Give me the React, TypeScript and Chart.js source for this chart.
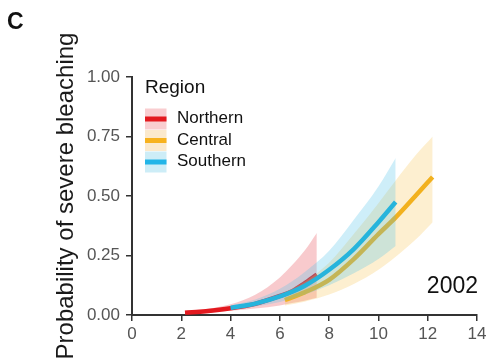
import React, { useEffect, useRef } from "react";
import { Chart, registerables } from "chart.js";

Chart.register(...registerables);

// ---- data ----
const xTickValues = [0, 2, 4, 6, 8, 10, 12, 14];
const yTickValues = [0, 0.25, 0.5, 0.75, 1];
const regionNames = ["Northern", "Central", "Southern"];

const northernX = [2.15, 3, 4, 5, 6, 6.5, 7, 7.5];
const northernFit = [0.01, 0.016, 0.028, 0.047, 0.08, 0.1, 0.133, 0.17];
const northernLow = [0.005, 0.01, 0.018, 0.027, 0.04, 0.05, 0.06, 0.072];
const northernHigh = [0.018, 0.025, 0.045, 0.085, 0.158, 0.21, 0.27, 0.345];

const centralX = [6.2, 7, 8, 9, 10, 10.7, 11.5, 12.2];
const centralFit = [0.063, 0.095, 0.148, 0.235, 0.34, 0.41, 0.5, 0.58];
const centralLow = [0.04, 0.056, 0.086, 0.13, 0.19, 0.245, 0.316, 0.39];
const centralHigh = [0.095, 0.14, 0.22, 0.34, 0.47, 0.565, 0.67, 0.75];

const southernX = [4, 5, 6, 7, 8, 9, 10, 10.7];
const southernFit = [0.03, 0.048, 0.078, 0.122, 0.19, 0.277, 0.39, 0.475];
const southernLow = [0.022, 0.036, 0.055, 0.085, 0.125, 0.175, 0.235, 0.29];
const southernHigh = [0.04, 0.065, 0.11, 0.18, 0.27, 0.4, 0.54, 0.66];

const panelLabel = "C";
const yearLabel = "2002";
const yAxisTitle = "Probability of severe bleaching";
const legendTitle = "Region";

// ---- styles ----
const FONT = '"Liberation Sans", Arial, sans-serif';
const lineColors = ["#e3191f", "#f2b11e", "#26b4dc"];
const bandColors = ["rgba(232,80,90,0.3)", "rgba(248,195,80,0.27)", "rgba(80,195,232,0.28)"];
const legendBoxColors = ["#f9cdd0", "#fbe9cc", "#cdedf7"];
const legendLineColors = ["#e3191f", "#f7b21e", "#22b5e8"];

const pts = (xs: number[], ys: number[]) => xs.map((x, i) => ({ x, y: ys[i] }));

function series(xs: number[], fit: number[], low: number[], high: number[], idx: number, baseOrder: number) {
  const common = {
    pointRadius: 0,
    pointHoverRadius: 0,
    cubicInterpolationMode: "monotone" as const,
  };
  return [
    { ...common, label: regionNames[idx] + " low", data: pts(xs, low), borderWidth: 0, borderColor: "transparent", fill: false, order: baseOrder + 1 },
    { ...common, label: regionNames[idx] + " high", data: pts(xs, high), borderWidth: 0, borderColor: "transparent", backgroundColor: bandColors[idx], fill: "-1", order: baseOrder + 1 },
    { ...common, label: regionNames[idx], data: pts(xs, fit), borderWidth: 4.5, borderColor: lineColors[idx], fill: false, order: baseOrder },
  ];
}

const overlayPlugin = {
  id: "overlayText",
  afterDraw(chart: any) {
    const { ctx, chartArea: ca } = chart;
    ctx.save();
    ctx.textBaseline = "middle";
    // panel label
    ctx.fillStyle = "#111";
    ctx.textAlign = "left";
    ctx.font = `bold 23px ${FONT}`;
    ctx.fillText(panelLabel, 7, 23);
    // year
    ctx.textAlign = "right";
    ctx.font = `23px ${FONT}`;
    ctx.fillText(yearLabel, ca.right + 1, ca.bottom - 28);
    // legend
    const lx = ca.left + 13;
    ctx.textAlign = "left";
    ctx.font = `19px ${FONT}`;
    ctx.fillStyle = "#111";
    ctx.fillText(legendTitle, lx, ca.top + 11);
    ctx.font = `17px ${FONT}`;
    regionNames.forEach((name, i) => {
      const cy = ca.top + 42 + i * 21.5;
      ctx.fillStyle = legendBoxColors[i];
      ctx.fillRect(lx, cy - 10.5, 21.5, 21);
      ctx.fillStyle = legendLineColors[i];
      ctx.fillRect(lx, cy - 2.5, 21.5, 5);
      ctx.fillStyle = "#111";
      ctx.fillText(name, lx + 32, cy - 0.5);
    });
    ctx.restore();
  },
};

export default function App() {
  const ref = useRef<HTMLCanvasElement>(null);
  useEffect(() => {
    if (!ref.current) return;
    const chart = new Chart(ref.current, {
      type: "line",
      data: {
        datasets: [
          ...series(northernX, northernFit, northernLow, northernHigh, 0, 5),
          ...series(centralX, centralFit, centralLow, centralHigh, 1, 3),
          ...series(southernX, southernFit, southernLow, southernHigh, 2, 1),
        ] as any,
      },
      options: {
        animation: false,
        responsive: false,
        maintainAspectRatio: false,
        layout: { padding: { top: 77, right: 15, bottom: 0, left: 0 } },
        plugins: {
          legend: { display: false },
          tooltip: { enabled: false },
          filler: { drawTime: "beforeDatasetDraw" } as any,
        },
        scales: {
          x: {
            type: "linear",
            min: 0,
            max: 14,
            afterFit: (s: any) => { s.height = 46; },
            afterBuildTicks: (s: any) => { s.ticks = xTickValues.map((v) => ({ value: v })); },
            ticks: { color: "#555", font: { family: FONT, size: 17 }, padding: 3 },
            grid: { display: true, drawOnChartArea: false, drawTicks: true, tickLength: 6, color: "#333", lineWidth: 1.5 },
            border: { display: true, color: "#333", width: 2 },
          },
          y: {
            type: "linear",
            min: 0,
            max: 1,
            afterFit: (s: any) => { s.width = 132; },
            afterBuildTicks: (s: any) => { s.ticks = yTickValues.map((v) => ({ value: v })); },
            ticks: {
              color: "#555",
              font: { family: FONT, size: 17 },
              padding: 6,
              callback: (v: any) => Number(v).toFixed(2),
            },
            grid: { display: true, drawOnChartArea: false, drawTicks: true, tickLength: 6, color: "#333", lineWidth: 1.5 },
            border: { display: true, color: "#333", width: 2 },
            title: {
              display: true,
              text: yAxisTitle,
              color: "#1a1a1a",
              font: { family: FONT, size: 24 },
              padding: { top: 52, bottom: 0 },
            },
          },
        },
      },
      plugins: [overlayPlugin],
    });
    return () => chart.destroy();
  }, []);
  return (
    <div style={{ position: "absolute", left: 0, top: 0, width: 492, height: 361, background: "#fff" }}>
      <canvas ref={ref} width={492} height={361} style={{ display: "block" }} />
    </div>
  );
}
